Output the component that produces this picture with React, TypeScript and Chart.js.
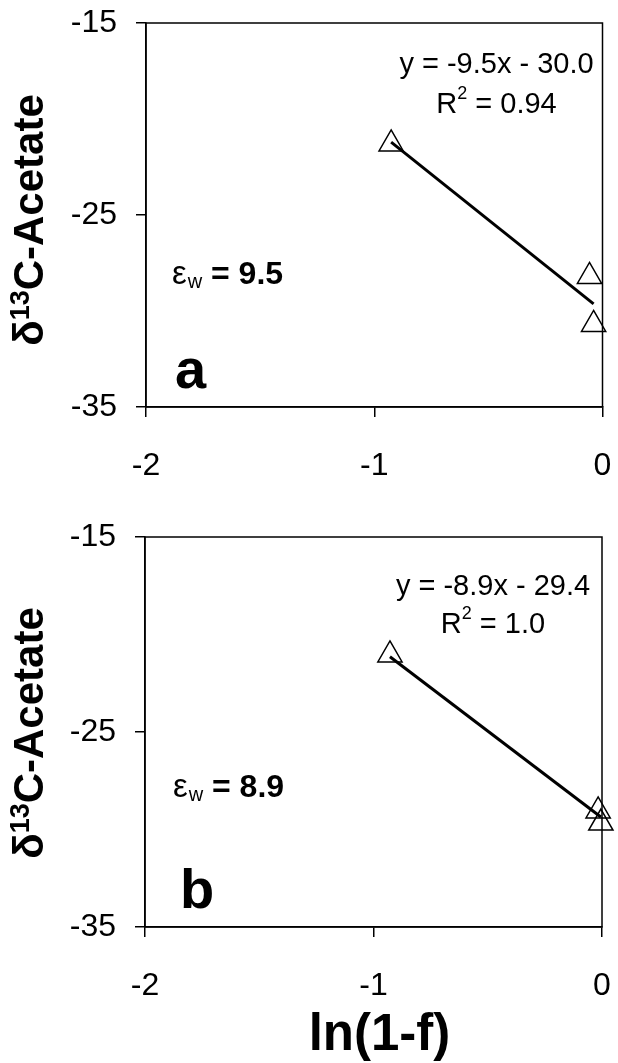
import React, { useEffect, useRef } from "react";
import { Chart, registerables } from "chart.js";

Chart.register(...registerables);

// ---- data ----
const xTicks = [-2, -1, 0];
const yTicks = [-35, -25, -15];
const panelALnF = [-0.926, -0.057, -0.039];
const panelAd13C = [-21.3, -28.2, -30.7];
const panelBLnF = [-0.928, -0.017, -0.005];
const panelBd13C = [-21.05, -29.05, -29.67];
const fitSlopes = [-9.5, -8.9];
const fitIntercepts = [-30.0, -29.4];
const fitR2Labels = ["0.94", "1.0"];
const epsilonW = ["9.5", "8.9"];
const panelLetters = ["a", "b"];
const yTitleParts = ["δ", "13", "C-Acetate"];
const xTitle = "ln(1-f)";

const FONT = "'Liberation Sans', Arial, Helvetica, sans-serif";

type PanelLayout = {
  canvasTop: number;
  canvasHeight: number;
  padTop: number;
  padRight: number;
  yAxisWidth: number;
  xAxisHeight: number;
  showXTitle: boolean;
  eqDx: number; // from chart right
  eqDy: number; // from chart top
  r2Dy: number;
  epsDx: number; // from chart left
  epsDy: number;
  letterDx: number;
  letterDy: number; // from chart bottom (baseline)
  yTitleDy: number;
};

const layouts: PanelLayout[] = [
  {
    canvasTop: 0,
    canvasHeight: 500,
    padTop: 23,
    padRight: 14,
    yAxisWidth: 146,
    xAxisHeight: 93,
    showXTitle: false,
    eqDx: 106,
    eqDy: 42,
    r2Dy: 82,
    epsDx: 26,
    epsDy: 252,
    letterDx: 29,
    letterDy: 19,
    yTitleDy: 5,
  },
  {
    canvasTop: 500,
    canvasHeight: 563,
    padTop: 37,
    padRight: 16,
    yAxisWidth: 145,
    xAxisHeight: 136,
    showXTitle: true,
    eqDx: 109,
    eqDy: 50,
    r2Dy: 88,
    epsDx: 28,
    epsDy: 251,
    letterDx: 35,
    letterDy: 19,
    yTitleDy: 1,
  },
];

const annotPlugin = {
  id: "annot",
  beforeDatasetsDraw(chart: any) {
    const { ctx, chartArea: ca } = chart;
    ctx.save();
    ctx.strokeStyle = "#000";
    ctx.lineWidth = 1.5;
    ctx.strokeRect(ca.left, ca.top, ca.right - ca.left, ca.bottom - ca.top);
    ctx.restore();
  },
  afterDraw(chart: any, _args: any, opts: any) {
    const { ctx, chartArea: ca } = chart;
    const L: PanelLayout = opts.layout;
    const i: number = opts.index;
    ctx.save();
    ctx.fillStyle = "#000";
    ctx.textBaseline = "middle";

    // equation
    const slope = fitSlopes[i];
    const icpt = fitIntercepts[i];
    const eq = `y = ${slope.toFixed(1)}x ${icpt < 0 ? "-" : "+"} ${Math.abs(icpt).toFixed(1)}`;
    ctx.font = `29px ${FONT}`;
    ctx.textAlign = "center";
    const cx = ca.right - L.eqDx;
    ctx.fillText(eq, cx, ca.top + L.eqDy);

    // R^2
    ctx.textAlign = "left";
    const r = "R";
    const rest = ` = ${fitR2Labels[i]}`;
    ctx.font = `29px ${FONT}`;
    const wR = ctx.measureText(r).width;
    const wRest = ctx.measureText(rest).width;
    ctx.font = `18px ${FONT}`;
    const w2 = ctx.measureText("2").width;
    const total = wR + w2 + wRest;
    const x0 = cx - total / 2;
    const ry = ca.top + L.r2Dy;
    ctx.font = `29px ${FONT}`;
    ctx.fillText(r, x0, ry);
    ctx.font = `18px ${FONT}`;
    ctx.fillText("2", x0 + wR, ry - 11);
    ctx.font = `29px ${FONT}`;
    ctx.fillText(rest, x0 + wR + w2, ry);

    // epsilon_w
    const ex = ca.left + L.epsDx;
    const ey = ca.top + L.epsDy;
    ctx.font = `33px ${FONT}`;
    ctx.fillText("ε", ex, ey);
    const we = ctx.measureText("ε").width;
    ctx.font = `20px ${FONT}`;
    ctx.fillText("w", ex + we + 1, ey + 7);
    const ww = ctx.measureText("w").width;
    ctx.font = `bold 32px ${FONT}`;
    ctx.fillText(` = ${epsilonW[i]}`, ex + we + ww + 1, ey);

    // panel letter
    ctx.textBaseline = "alphabetic";
    ctx.font = `bold 56px ${FONT}`;
    ctx.fillText(panelLetters[i], ca.left + L.letterDx, ca.bottom - L.letterDy);

    // y title (rotated, with superscript)
    const big = `bold 42px ${FONT}`;
    const small = `bold 27px ${FONT}`;
    ctx.font = big;
    const wA = ctx.measureText(yTitleParts[0]).width;
    const wC = ctx.measureText(yTitleParts[2]).width;
    ctx.font = small;
    const wB = ctx.measureText(yTitleParts[1]).width;
    const tw = wA + wB + wC;
    const cy = (ca.top + ca.bottom) / 2 + L.yTitleDy;
    ctx.save();
    ctx.translate(43, cy);
    ctx.rotate(-Math.PI / 2);
    ctx.textAlign = "left";
    let tx = -tw / 2;
    ctx.font = big;
    ctx.fillText(yTitleParts[0], tx, 0);
    tx += wA;
    ctx.font = small;
    ctx.fillText(yTitleParts[1], tx, -14);
    tx += wB;
    ctx.font = big;
    ctx.fillText(yTitleParts[2], tx, 0);
    ctx.restore();

    // x title
    if (L.showXTitle) {
      ctx.font = `bold 51px ${FONT}`;
      ctx.textAlign = "center";
      ctx.fillText(xTitle, (ca.left + ca.right) / 2 + 6, ca.bottom + 123);
    }
    ctx.restore();
  },
};

function zeroPad(s: any) {
  s.paddingTop = 0;
  s.paddingBottom = 0;
  s.paddingLeft = 0;
  s.paddingRight = 0;
}

function makeConfig(index: number, xs: number[], ys: number[]): any {
  const L = layouts[index];
  const xmin = Math.min(...xs);
  const xmax = Math.max(...xs);
  const fit = [xmin, xmax].map((x) => ({ x, y: fitSlopes[index] * x + fitIntercepts[index] }));
  const pts = xs.map((x, k) => ({ x, y: ys[k] }));
  const tickFont = { family: FONT, size: 32 };
  return {
    type: "scatter",
    data: {
      datasets: [
        {
          type: "line",
          data: fit,
          borderColor: "#000",
          borderWidth: 3,
          pointRadius: 0,
          fill: false,
          clip: false,
          order: 2,
        },
        {
          type: "scatter",
          data: pts,
          pointStyle: "triangle",
          pointRadius: 14,
          borderColor: "#000",
          borderWidth: 1.5,
          backgroundColor: "rgba(0,0,0,0)",
          clip: false,
          order: 1,
        },
      ],
    },
    options: {
      animation: false,
      responsive: false,
      events: [],
      layout: { padding: { top: L.padTop, right: L.padRight, left: 0, bottom: 0 } },
      plugins: {
        legend: { display: false },
        tooltip: { enabled: false },
        annot: { layout: L, index },
      },
      scales: {
        x: {
          type: "linear",
          min: -2,
          max: 0,
          afterBuildTicks: (s: any) => {
            s.ticks = xTicks.map((v) => ({ value: v }));
          },
          afterFit: (s: any) => {
            s.height = L.xAxisHeight;
            zeroPad(s);
          },
          ticks: { font: tickFont, color: "#000", padding: 30, maxRotation: 0 },
          grid: {
            drawOnChartArea: false,
            drawTicks: true,
            tickLength: 10,
            color: "#000",
            lineWidth: 1.5,
          },
          border: { display: true, color: "#000", width: 1.5 },
          title: { display: false },
        },
        y: {
          type: "linear",
          min: -35,
          max: -15,
          afterBuildTicks: (s: any) => {
            s.ticks = yTicks.map((v) => ({ value: v }));
          },
          afterFit: (s: any) => {
            s.width = L.yAxisWidth;
            zeroPad(s);
          },
          ticks: { font: tickFont, color: "#000", padding: 19 },
          grid: {
            drawOnChartArea: false,
            drawTicks: true,
            tickLength: 10,
            color: "#000",
            lineWidth: 1.5,
          },
          border: { display: true, color: "#000", width: 1.5 },
          title: { display: false },
        },
      },
    },
    plugins: [annotPlugin],
  };
}

function Panel({ index, xs, ys }: { index: number; xs: number[]; ys: number[] }) {
  const ref = useRef<HTMLCanvasElement | null>(null);
  const L = layouts[index];
  useEffect(() => {
    if (!ref.current) return;
    const chart = new Chart(ref.current, makeConfig(index, xs, ys));
    return () => chart.destroy();
  }, [index, xs, ys]);
  return (
    <canvas
      ref={ref}
      width={618}
      height={L.canvasHeight}
      style={{
        position: "absolute",
        left: 0,
        top: L.canvasTop,
        width: 618,
        height: L.canvasHeight,
        display: "block",
      }}
    />
  );
}

export default function App() {
  useEffect(() => {
    document.body.style.margin = "0";
    document.body.style.background = "#fff";
  }, []);
  return (
    <div
      style={{
        position: "absolute",
        left: 0,
        top: 0,
        width: 618,
        height: 1063,
        background: "#fff",
        overflow: "hidden",
      }}
    >
      <Panel index={0} xs={panelALnF} ys={panelAd13C} />
      <Panel index={1} xs={panelBLnF} ys={panelBd13C} />
    </div>
  );
}
